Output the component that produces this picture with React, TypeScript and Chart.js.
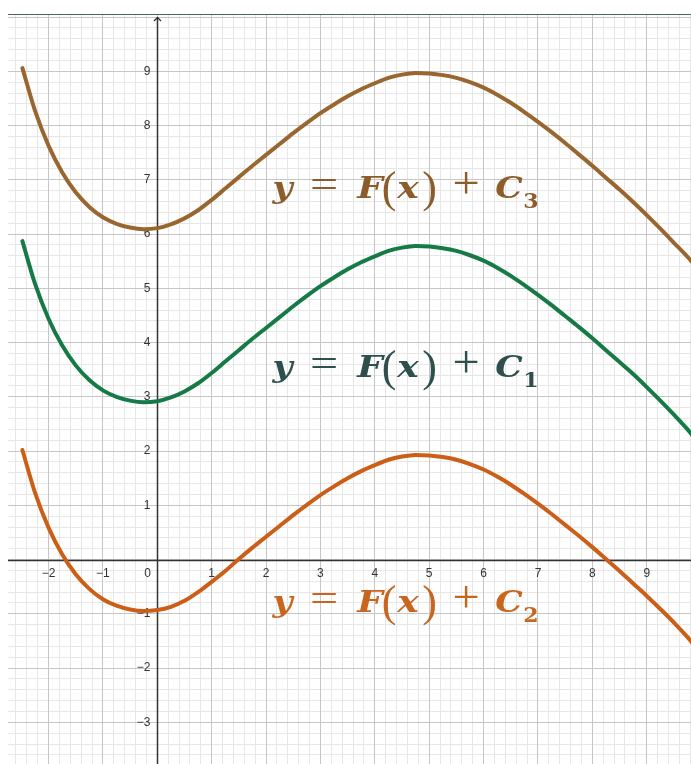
import React, { useEffect, useRef } from "react";
import { Chart, registerables } from "chart.js";

Chart.register(...registerables);

// Sample abscissas shared by the three antiderivative curves
const xs = [
  -2.48, -2.25, -2, -1.75, -1.5, -1.25, -1, -0.75, -0.5, -0.25, 0, 0.25, 0.5, 0.75, 1, 1.25,
  1.5, 1.75, 2, 2.25, 2.5, 2.75, 3, 3.25, 3.5, 3.75, 4, 4.25, 4.5, 4.75, 5, 5.25,
  5.5, 5.75, 6, 6.25, 6.5, 6.75, 7, 7.25, 7.5, 7.75, 8, 8.25, 8.5, 8.75, 9, 9.25,
  9.5, 9.75, 9.85,
];

// y = F(x) + C3 (brown)
const curveC3 = [
  9.06, 8.28, 7.63, 7.14, 6.77, 6.5, 6.31, 6.19, 6.12, 6.09, 6.11, 6.18, 6.29, 6.44, 6.63, 6.84,
  7.05, 7.26, 7.46, 7.66, 7.86, 8.05, 8.23, 8.39, 8.54, 8.67, 8.78, 8.88, 8.94, 8.97, 8.96, 8.93,
  8.88, 8.8, 8.7, 8.57, 8.42, 8.25, 8.07, 7.88, 7.68, 7.47, 7.26, 7.04, 6.82, 6.59, 6.35, 6.1,
  5.84, 5.58, 5.47,
];

// y = F(x) + C1 (green)
const curveC1 = [
  5.87, 5.09, 4.44, 3.95, 3.58, 3.31, 3.12, 3.0, 2.93, 2.9, 2.92, 2.99, 3.1, 3.25, 3.44, 3.65,
  3.86, 4.07, 4.27, 4.47, 4.67, 4.86, 5.04, 5.2, 5.35, 5.48, 5.59, 5.69, 5.75, 5.78, 5.77, 5.74,
  5.69, 5.61, 5.51, 5.38, 5.23, 5.06, 4.88, 4.69, 4.49, 4.29, 4.08, 3.86, 3.64, 3.42, 3.18, 2.93,
  2.67, 2.4, 2.28,
];

// y = F(x) + C2 (orange)
const curveC2 = [
  2.02, 1.24, 0.59, 0.1, -0.27, -0.54, -0.73, -0.85, -0.92, -0.95, -0.93, -0.87, -0.76, -0.6, -0.41, -0.21,
  0.01, 0.22, 0.42, 0.62, 0.82, 1.01, 1.19, 1.35, 1.5, 1.63, 1.74, 1.84, 1.9, 1.93, 1.92, 1.89,
  1.84, 1.76, 1.66, 1.53, 1.38, 1.21, 1.03, 0.84, 0.64, 0.44, 0.23, 0.01, -0.21, -0.44, -0.67, -0.91,
  -1.16, -1.43, -1.55,
];

// Axis tick labels
const xTickLabels = [-2, -1, 0, 1, 2, 3, 4, 5, 6, 7, 8, 9];
const yTickLabels = [-3, -2, -1, 1, 2, 3, 4, 5, 6, 7, 8, 9];

// Visible window of the coordinate plane
const X_MIN = -2.745;
const X_MAX = 9.814;
const Y_MIN = -3.768;
const Y_MAX = 10.057;

const BROWN = "#99662f";
const GREEN = "#167a46";
const ORANGE = "#cc5f18";

// Equation captions, anchored at (x, y) in plane coordinates (left edge, baseline)
const captions = [
  { sub: "3", color: "#8c5d2a", x: 2.11, y: 6.66 },
  { sub: "1", color: "#2f4f4f", x: 2.11, y: 3.37 },
  { sub: "2", color: "#c8651f", x: 2.11, y: -0.97 },
];

const LETTER = "italic bold 30px 'DejaVu Serif'";
const pieces = (sub: string) => [
  { t: "y", off: 10.5, font: LETTER, sx: 1.15, dy: 0 },
  { t: "=", off: 52, font: "40px 'Liberation Serif'", sx: 1.25, dy: 0 },
  { t: "F", off: 98, font: LETTER, sx: 1.2, dy: 0 },
  { t: "(", off: 117, font: "44px 'Liberation Serif'", sx: 1, dy: 4 },
  { t: "x", off: 136, font: LETTER, sx: 1.2, dy: 0 },
  { t: ")", off: 157.5, font: "44px 'Liberation Serif'", sx: 1, dy: 4 },
  { t: "+", off: 194, font: "46px 'Liberation Serif'", sx: 1.05, dy: 0 },
  { t: "C", off: 237, font: LETTER, sx: 1.15, dy: 0 },
  { t: sub, off: 259, font: "bold 21px 'DejaVu Serif'", sx: 1.05, dy: 10 },
];

const stepTicks = (min: number, max: number, step: number) => {
  const out: { value: number }[] = [];
  const start = Math.ceil(min / step - 1e-9);
  for (let i = start; i * step <= max + 1e-9; i++) out.push({ value: +(i * step).toFixed(4) });
  return out;
};

const fmt = (v: number) => (v < 0 ? "\u2212" + Math.abs(v) : String(v));

const planePlugin = {
  id: "plane",
  beforeDatasetsDraw(chart: any) {
    const { ctx, chartArea, scales } = chart;
    const sx = scales.x;
    const sy = scales.y;
    const ox = Math.round(sx.getPixelForValue(0)) + 0.5;
    const oy = Math.round(sy.getPixelForValue(0)) + 0.5;
    ctx.save();

    // top frame line
    ctx.strokeStyle = "#4f6464";
    ctx.lineWidth = 1;
    ctx.beginPath();
    ctx.moveTo(0, chartArea.top + 0.5);
    ctx.lineTo(chart.width, chartArea.top + 0.5);
    ctx.stroke();

    // coordinate axes
    ctx.strokeStyle = "#333";
    ctx.lineWidth = 1.5;
    ctx.beginPath();
    ctx.moveTo(chartArea.left, oy);
    ctx.lineTo(chartArea.right, oy);
    ctx.moveTo(ox, chartArea.bottom);
    ctx.lineTo(ox, chartArea.top + 3.5);
    ctx.stroke();
    // arrow head on the y axis
    ctx.lineWidth = 1.3;
    ctx.beginPath();
    ctx.moveTo(ox - 3.5, chartArea.top + 7);
    ctx.lineTo(ox, chartArea.top + 3.5);
    ctx.lineTo(ox + 3.5, chartArea.top + 7);
    ctx.stroke();

    // tick labels
    ctx.fillStyle = "#333";
    ctx.font = "12px 'Liberation Sans', Arial, sans-serif";
    ctx.textBaseline = "middle";
    ctx.textAlign = "center";
    for (const v of xTickLabels) {
      const px = v === 0 ? ox - 10 : sx.getPixelForValue(v);
      ctx.fillText(fmt(v), px, oy + 13);
    }
    ctx.textAlign = "right";
    for (const v of yTickLabels) {
      ctx.fillText(fmt(v), ox - 7, sy.getPixelForValue(v));
    }
    ctx.restore();
  },
  afterDatasetsDraw(chart: any) {
    const { ctx, scales } = chart;
    ctx.save();
    ctx.textAlign = "center";
    ctx.textBaseline = "alphabetic";
    for (const c of captions) {
      const left = scales.x.getPixelForValue(c.x);
      const base = scales.y.getPixelForValue(c.y);
      ctx.fillStyle = c.color;
      for (const p of pieces(c.sub)) {
        ctx.save();
        ctx.translate(left + p.off, base + p.dy);
        ctx.scale(p.sx, 1);
        ctx.font = p.font;
        ctx.fillText(p.t, 0, 0);
        ctx.restore();
      }
    }
    ctx.restore();
  },
};

const gridScale = (axis: "x" | "y", min: number, max: number, step: number, color: string, z: number) => ({
  type: "linear" as const,
  axis,
  position: axis === "x" ? ("bottom" as const) : ("left" as const),
  min,
  max,
  afterBuildTicks: (s: any) => {
    s.ticks = stepTicks(min, max, step);
  },
  grid: { color, lineWidth: 1, drawTicks: false, z },
  border: { display: false },
  ticks: { display: false },
});

const series = (values: number[], color: string, label: string) => ({
  label,
  data: xs.map((x, i) => ({ x, y: values[i] })),
  borderColor: color,
  borderWidth: 4,
  borderCapStyle: "round" as const,
  pointRadius: 0,
  fill: false,
  cubicInterpolationMode: "monotone" as const,
  xAxisID: "x",
  yAxisID: "y",
});

export default function App() {
  const ref = useRef<HTMLCanvasElement | null>(null);

  useEffect(() => {
    if (!ref.current) return;
    const chart = new Chart(ref.current, {
      type: "line",
      data: {
        datasets: [
          series(curveC3, BROWN, "y = F(x) + C3"),
          series(curveC1, GREEN, "y = F(x) + C1"),
          series(curveC2, ORANGE, "y = F(x) + C2"),
        ],
      },
      options: {
        responsive: false,
        animation: false,
        events: [],
        layout: { padding: { top: 6, left: 0, right: 0, bottom: 0 }, autoPadding: false },
        plugins: { legend: { display: false }, tooltip: { enabled: false } },
        scales: {
          xMinor: gridScale("x", X_MIN, X_MAX, 0.2, "#e7e7e7", -2),
          yMinor: gridScale("y", Y_MIN, Y_MAX, 0.2, "#e7e7e7", -2),
          x: gridScale("x", X_MIN, X_MAX, 1, "#c6c6c6", -1),
          y: gridScale("y", Y_MIN, Y_MAX, 1, "#c6c6c6", -1),
        },
      } as any,
      plugins: [planePlugin],
    });
    return () => chart.destroy();
  }, []);

  return (
    <canvas
      ref={ref}
      width={683}
      height={756}
      style={{ display: "block", position: "fixed", left: 8, top: 8 }}
    />
  );
}
